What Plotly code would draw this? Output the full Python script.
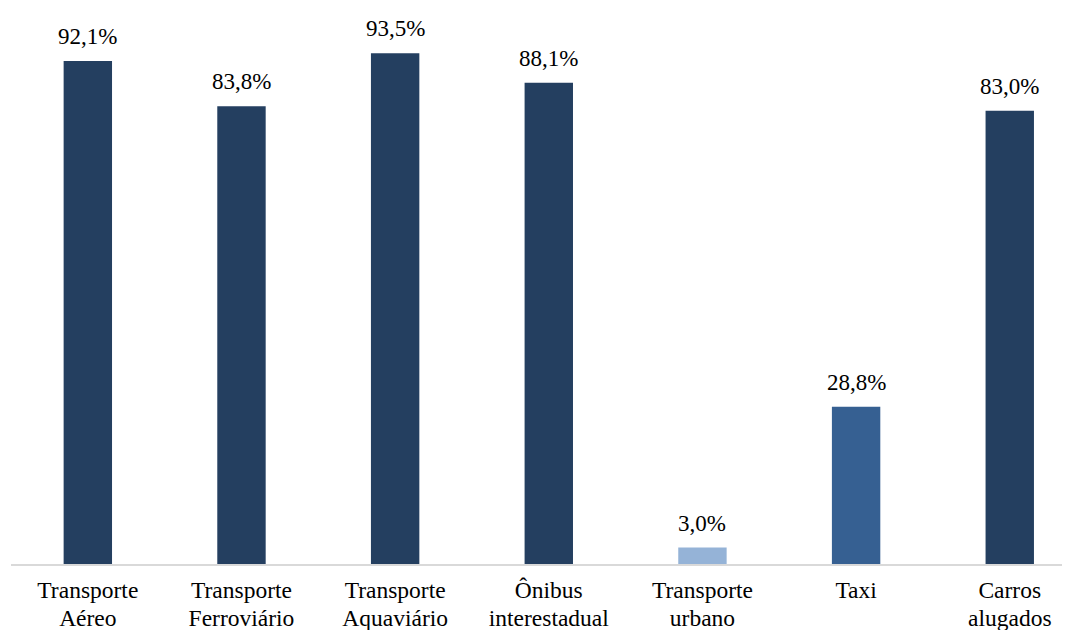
import plotly.graph_objects as go

# Share of each transport mode (%)
categories = ["Transporte Aéreo", "Transporte Ferroviário", "Transporte Aquaviário",
              "Ônibus interestadual", "Transporte urbano", "Taxi", "Carros alugados"]
tick_lines = [["Transporte", "Aéreo"], ["Transporte", "Ferroviário"], ["Transporte", "Aquaviário"],
              ["Ônibus", "interestadual"], ["Transporte", "urbano"], ["Taxi"], ["Carros", "alugados"]]
values = [92.1, 83.8, 93.5, 88.1, 3.0, 28.8, 83.0]
bar_colors = ["#243F60", "#243F60", "#243F60", "#243F60", "#95B3D7", "#366092", "#243F60"]

font_family = "Liberation Serif"
label_size = 23
tick_size = 23.5
# line pitch of multi-line tick labels follows the outer tick font size
tick_pitch_size = 21.5

tick_text = [
    "<br>".join(f'<span style="font-size:{tick_size}px">{line}</span>' for line in lines)
    for lines in tick_lines
]

fig = go.Figure(go.Bar(
    x=categories,
    y=values,
    marker=dict(color=bar_colors, line=dict(width=0)),
    width=0.315,
    hoverinfo="skip",
))

for cat, val in zip(categories, values):
    fig.add_annotation(
        x=cat, y=val, text=f"{val:.1f}%".replace(".", ","),
        showarrow=False, yanchor="bottom", yshift=10,
        font=dict(family=font_family, size=label_size, color="#000000"),
    )

fig.update_layout(
    width=1073, height=630,
    margin=dict(l=11, r=11, t=10, b=66, autoexpand=False),
    paper_bgcolor="white", plot_bgcolor="white",
    showlegend=False,
    font=dict(family=font_family, size=label_size, color="#000000"),
    xaxis=dict(
        type="category",
        automargin=False,
        range=[-0.5, 6.34],
        tickmode="array", tickvals=categories, ticktext=tick_text,
        showline=True, linecolor="#D9D9D9", linewidth=2,
        ticks="", showgrid=False, zeroline=False,
        tickfont=dict(family=font_family, size=tick_pitch_size, color="#000000"),
        ticklabelstandoff=6,
    ),
    yaxis=dict(
        range=[0, 101.43],
        visible=False, showgrid=False, zeroline=False,
        automargin=False,
    ),
)

fig.write_html("out.html")
